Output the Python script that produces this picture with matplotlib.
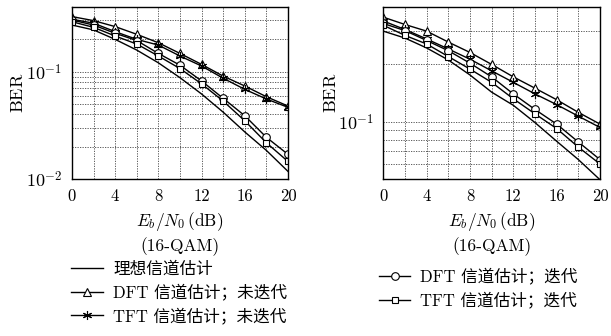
import numpy as np
import matplotlib
matplotlib.use("Agg")
import matplotlib.pyplot as plt
from matplotlib.ticker import FixedLocator, LogLocator, NullFormatter, FuncFormatter

plt.rcParams['mathtext.fontset'] = 'cm'

snr = [0, 2, 4, 6, 8, 10, 12, 14, 16, 18, 20]

# left panel
ideal_a = [0.272, 0.245, 0.200, 0.159, 0.121, 0.088, 0.062, 0.042, 0.0275, 0.0185, 0.0118]
dft_a = [0.326, 0.299, 0.263, 0.223, 0.186, 0.148, 0.117, 0.091, 0.0736, 0.0585, 0.0479]
tft_a = [0.308, 0.283, 0.236, 0.200, 0.177, 0.140, 0.113, 0.087, 0.0685, 0.0557, 0.0466]
dft_it_a = [0.303, 0.272, 0.228, 0.195, 0.148, 0.115, 0.082, 0.0565, 0.0389, 0.0245, 0.0170]
tft_it_a = [0.292, 0.259, 0.215, 0.181, 0.140, 0.107, 0.077, 0.0533, 0.0349, 0.0218, 0.0146]

# right panel
ideal_b = [0.299, 0.275, 0.244, 0.211, 0.176, 0.143, 0.122, 0.099, 0.079, 0.0633, 0.0496]
dft_b = [0.354, 0.324, 0.299, 0.262, 0.231, 0.200, 0.172, 0.150, 0.1305, 0.112, 0.0972]
tft_b = [0.338, 0.305, 0.272, 0.241, 0.213, 0.185, 0.161, 0.140, 0.123, 0.107, 0.0933]
dft_it_b = [0.328, 0.301, 0.267, 0.236, 0.203, 0.172, 0.140, 0.116, 0.0972, 0.0783, 0.0633]
tft_it_b = [0.321, 0.284, 0.256, 0.220, 0.189, 0.161, 0.132, 0.110, 0.0921, 0.0736, 0.0600]

labels = ['理想信道估计', 'DFT 信道估计；未迭代', 'TFT 信道估计；未迭代',
          'DFT 信道估计；迭代', 'TFT 信道估计；迭代']

cm_font = ['cmr10', 'Noto Sans CJK SC']
star = (6, 2, 0)

fig = plt.figure(figsize=(6.11, 3.36), dpi=100)
ax1 = fig.add_axes([0.1178, 0.467, 0.3535, 0.512])
ax2 = fig.add_axes([0.6273, 0.467, 0.3547, 0.512])


def pow_fmt(v, pos):
    return r'$10^{%d}$' % int(round(np.log10(v)))


def draw(ax, ideal, dft, tft, dft_it, tft_it, ylim):
    kw = dict(color='black', lw=1.0, mfc='white', mec='black', mew=0.8)
    h0, = ax.plot(snr, ideal, '-', **kw)
    h1, = ax.plot(snr, dft, '-', marker='^', ms=5.5, **kw)
    h2, = ax.plot(snr, tft, '-', marker=star, ms=6.5, **kw)
    h3, = ax.plot(snr, dft_it, '-', marker='o', ms=5.5, **kw)
    h4, = ax.plot(snr, tft_it, '-', marker='s', ms=5, **kw)
    ax.set_yscale('log')
    ax.set_xlim(0, 20)
    ax.set_ylim(*ylim)
    ax.xaxis.set_major_locator(FixedLocator([0, 4, 8, 12, 16, 20]))
    ax.xaxis.set_minor_locator(FixedLocator([2, 6, 10, 14, 18]))
    ax.yaxis.set_major_formatter(FuncFormatter(pow_fmt))
    ax.yaxis.set_minor_locator(LogLocator(base=10, subs=np.arange(2, 10)))
    ax.yaxis.set_minor_formatter(NullFormatter())
    ax.grid(True, which='both', ls=(0, (1.5, 1.5)), color='#444444', lw=0.6)
    ax.tick_params(which='both', direction='in', length=0, labelsize=13, pad=7)
    for lab in ax.get_xticklabels():
        lab.set_fontfamily('cmr10')
        lab.set_fontsize(12)
    for sp in ax.spines.values():
        sp.set_linewidth(1.0)
    ax.set_ylabel(r'$\mathrm{BER}$', fontsize=13)
    ax.text(0.5, -0.244, r'$E_b/N_0\,(\mathrm{dB})$', transform=ax.transAxes,
            ha='center', va='center', fontsize=12.5)
    ax.text(0.5, -0.395, '(16-QAM)', transform=ax.transAxes,
            ha='center', va='center', fontsize=12.5, family='cmr10')
    return [h0, h1, h2, h3, h4]


hs = draw(ax1, ideal_a, dft_a, tft_a, dft_it_a, tft_it_a, (0.01, 0.4))
draw(ax2, ideal_b, dft_b, tft_b, dft_it_b, tft_it_b, (0.05, 0.4))
ax1.yaxis.set_label_coords(-0.21, 0.5)
ax2.yaxis.set_label_coords(-0.2, 0.5)

leg_kw = dict(frameon=False, prop={'family': cm_font, 'size': 12},
              handlelength=1.9, handletextpad=0.6, labelspacing=0.4,
              borderaxespad=0, borderpad=0)
fig.legend(hs[:3], labels[:3], loc='upper left',
           bbox_to_anchor=(0.117, 0.222), **leg_kw)
fig.legend(hs[3:], labels[3:], loc='upper left',
           bbox_to_anchor=(0.62, 0.203), **leg_kw)

fig.savefig('out.png', dpi=100)
